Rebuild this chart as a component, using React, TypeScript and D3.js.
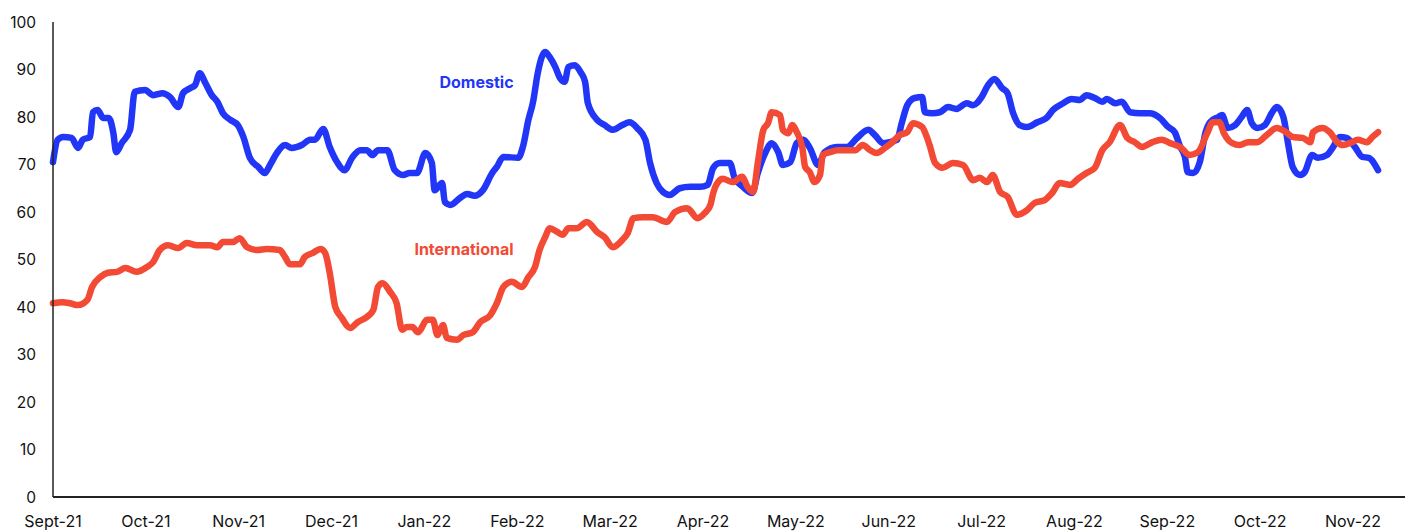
import React from "react";
import * as d3 from "d3";

const monthLabels = [
  "Sept-21", "Oct-21", "Nov-21", "Dec-21", "Jan-22", "Feb-22", "Mar-22", "Apr-22",
  "May-22", "Jun-22", "Jul-22", "Aug-22", "Sep-22", "Oct-22", "Nov-22",
];
const yTicks = [0, 10, 20, 30, 40, 50, 60, 70, 80, 90, 100];

// [months since Sept-21, value]
const domestic: [number, number][] = [
  [0.0, 70.5], [0.05, 75.2], [0.11, 75.8], [0.2, 75.6], [0.27, 73.5], [0.32, 75.2], [0.4, 75.8],
  [0.43, 81], [0.48, 81.5], [0.54, 79.8], [0.6, 79.8], [0.65, 76.6], [0.68, 72.6], [0.74, 74.5],
  [0.83, 77.3], [0.88, 85.3], [0.99, 85.7], [1.08, 84.6], [1.18, 85], [1.26, 84.2], [1.35, 82.1],
  [1.4, 85], [1.48, 86.1], [1.53, 86.7], [1.58, 89.2], [1.64, 87.2], [1.71, 84.6], [1.77, 83.2],
  [1.83, 80.8], [1.91, 79.4], [1.99, 78.3], [2.05, 75.8], [2.12, 71.4], [2.21, 69.5], [2.28, 68.2],
  [2.34, 70], [2.41, 72.4], [2.5, 74.1], [2.57, 73.5], [2.68, 74.1], [2.77, 75.2], [2.82, 75.2],
  [2.91, 77.5], [2.98, 73.7], [3.06, 70.5], [3.14, 68.8], [3.22, 71.4], [3.31, 73], [3.38, 73],
  [3.44, 72], [3.5, 73], [3.6, 73], [3.68, 68.8], [3.77, 67.8], [3.84, 68.2], [3.92, 68.2],
  [4.01, 72.4], [4.08, 70.3], [4.11, 64.6], [4.19, 66.1], [4.22, 62.1], [4.28, 61.5], [4.38, 62.9],
  [4.46, 63.8], [4.54, 63.4], [4.63, 64.6], [4.73, 68.2], [4.78, 69.5], [4.85, 71.6], [5.01, 71.4],
  [5.06, 73.7], [5.12, 79.4], [5.17, 83.2], [5.22, 89.2], [5.3, 93.7], [5.35, 92.6], [5.41, 90.5],
  [5.46, 88.2], [5.51, 87.4], [5.55, 90.5], [5.62, 90.9], [5.68, 89.5], [5.73, 87.4], [5.76, 82.9],
  [5.86, 79.4], [5.94, 78.3], [6.03, 77.3], [6.13, 78.3], [6.21, 78.9], [6.29, 77.7], [6.38, 75.2],
  [6.43, 70.3], [6.5, 66.1], [6.57, 64.2], [6.64, 63.6], [6.75, 65], [6.86, 65.3], [6.97, 65.3],
  [7.05, 65.7], [7.11, 69.3], [7.18, 70.3], [7.29, 70.3], [7.34, 67.2], [7.43, 65.3], [7.53, 64],
  [7.59, 68.2], [7.67, 72.4], [7.74, 74.5], [7.81, 72.6], [7.86, 69.9], [7.94, 70.5], [8.01, 74.5],
  [8.08, 75.2], [8.15, 73.5], [8.24, 69.9], [8.31, 72.6], [8.44, 73.7], [8.55, 73.7], [8.66, 75.6],
  [8.78, 77.3], [8.85, 76.2], [8.94, 74.5], [9.09, 75.2], [9.14, 78.7], [9.2, 82.5], [9.28, 84],
  [9.36, 84.2], [9.39, 81], [9.47, 80.8], [9.55, 81], [9.64, 82.1], [9.73, 81.7], [9.84, 82.9],
  [9.91, 82.5], [10.0, 84.2], [10.07, 86.7], [10.14, 88], [10.22, 86.1], [10.28, 85], [10.34, 80.8],
  [10.41, 78.3], [10.49, 77.9], [10.6, 78.9], [10.7, 79.8], [10.77, 81.5], [10.88, 82.9],
  [10.97, 83.8], [11.06, 83.6], [11.13, 84.6], [11.22, 84], [11.3, 83.2], [11.35, 83.8],
  [11.44, 82.9], [11.51, 83.2], [11.6, 81], [11.71, 80.8], [11.81, 80.8], [11.92, 79.8],
  [12.01, 77.9], [12.08, 76.8], [12.14, 73.7], [12.19, 71.6], [12.22, 68.4], [12.28, 68.2],
  [12.35, 70.5], [12.41, 76.6], [12.46, 78.9], [12.55, 80], [12.59, 80.4], [12.65, 77.7],
  [12.73, 78.3], [12.8, 80], [12.86, 81.5], [12.91, 78.7], [12.97, 77.7], [13.05, 78.3],
  [13.13, 81], [13.18, 82.1], [13.25, 80], [13.3, 74.5], [13.35, 69.5], [13.43, 67.8],
  [13.48, 68.4], [13.56, 72], [13.62, 71.4], [13.72, 72], [13.78, 73.5], [13.86, 75.8],
  [13.93, 75.6], [14.02, 73.7], [14.1, 71.6], [14.17, 71.4], [14.27, 68.8],
];

const international: [number, number][] = [
  [0.0, 40.8], [0.1, 41], [0.18, 40.8], [0.27, 40.4], [0.37, 41.5], [0.42, 44.2], [0.51, 46.3],
  [0.59, 47.2], [0.69, 47.4], [0.78, 48.2], [0.9, 47.4], [1.01, 48.4], [1.08, 49.5], [1.15, 52],
  [1.24, 53], [1.35, 52.4], [1.44, 53.5], [1.55, 53], [1.69, 53], [1.77, 52.6], [1.83, 53.7],
  [1.94, 53.7], [2.01, 54.5], [2.09, 52.6], [2.2, 52], [2.3, 52.2], [2.44, 52], [2.5, 50.5],
  [2.55, 49], [2.66, 49], [2.71, 50.5], [2.8, 51.4], [2.88, 52.2], [2.93, 51.4], [2.98, 47.2],
  [3.04, 40], [3.11, 37.7], [3.2, 35.6], [3.28, 36.8], [3.38, 37.9], [3.45, 39.4], [3.5, 44.2],
  [3.55, 45], [3.63, 43.2], [3.7, 40.8], [3.76, 35.2], [3.81, 35.8], [3.87, 35.8], [3.93, 34.7],
  [4.03, 37.3], [4.09, 37.3], [4.14, 34.1], [4.2, 36.2], [4.24, 33.5], [4.35, 33.1], [4.42, 34.1],
  [4.52, 34.7], [4.6, 36.8], [4.71, 38.3], [4.78, 40.8], [4.85, 44.2], [4.94, 45.3], [5.05, 44.2],
  [5.12, 46.3], [5.19, 48.4], [5.24, 52], [5.3, 54.7], [5.35, 56.6], [5.43, 55.8], [5.49, 55.2],
  [5.55, 56.6], [5.64, 56.6], [5.75, 57.9], [5.86, 55.8], [5.94, 54.7], [6.03, 52.6], [6.13, 54.1],
  [6.19, 55.6], [6.25, 58.7], [6.35, 58.9], [6.46, 58.9], [6.61, 57.9], [6.7, 60], [6.83, 60.8],
  [6.94, 58.7], [7.02, 59.8], [7.08, 61.5], [7.11, 64], [7.18, 66.7], [7.21, 67], [7.32, 66.3],
  [7.42, 67.4], [7.48, 65.3], [7.54, 64.2], [7.59, 70.3], [7.65, 77.3], [7.7, 78.7], [7.74, 81],
  [7.83, 80.4], [7.86, 77.3], [7.92, 76.6], [7.96, 78.3], [8.01, 76.8], [8.07, 73.5], [8.1, 69.5],
  [8.15, 68.4], [8.2, 66.3], [8.26, 67.8], [8.29, 72], [8.37, 72.6], [8.45, 73], [8.55, 73],
  [8.64, 73], [8.72, 74.1], [8.8, 73], [8.87, 72.4], [8.96, 73.5], [9.04, 74.7], [9.12, 76.2],
  [9.2, 76.8], [9.26, 78.7], [9.36, 77.9], [9.41, 75.8], [9.44, 74.1], [9.5, 70.3], [9.58, 69.3],
  [9.69, 70.3], [9.8, 69.9], [9.91, 66.7], [9.98, 67.2], [10.06, 66.3], [10.12, 67.8],
  [10.2, 64.2], [10.28, 63.2], [10.38, 59.4], [10.49, 60.4], [10.57, 61.9], [10.68, 62.5],
  [10.76, 64], [10.84, 66.1], [10.95, 65.7], [11.04, 67], [11.13, 68.2], [11.22, 69.3], [11.3, 73],
  [11.38, 74.7], [11.49, 78.3], [11.57, 75.6], [11.65, 74.7], [11.73, 73.7], [11.84, 74.7],
  [11.94, 75.2], [12.03, 74.5], [12.14, 73.7], [12.24, 72], [12.33, 72.6], [12.43, 76.6],
  [12.49, 78.9], [12.56, 78.9], [12.61, 76.6], [12.7, 74.5], [12.78, 74.1], [12.87, 74.7],
  [12.97, 74.7], [13.07, 76.2], [13.18, 77.7], [13.28, 76.8], [13.35, 75.8], [13.46, 75.6],
  [13.54, 74.7], [13.57, 76.8], [13.67, 77.7], [13.75, 76.8], [13.83, 74.7], [13.89, 74.1],
  [13.99, 74.7], [14.05, 75.2], [14.15, 74.7], [14.21, 75.8], [14.27, 76.8],
];

const series = [
  { name: "Domestic", data: domestic, color: "#2236F7", labelAt: [4.96, 87.4] as [number, number] },
  { name: "International", data: international, color: "#F24A34", labelAt: [4.96, 52.2] as [number, number] },
];

const W = 1405;
const H = 531;
const FONT = "Inter, 'Noto Sans', Arial, sans-serif";

export default function App() {
  const x = d3.scaleLinear().domain([0, 14]).range([53, 1353]);
  const y = d3.scaleLinear().domain([0, 100]).range([497, 22]);
  const line = d3
    .line<[number, number]>()
    .x((d) => x(d[0]))
    .y((d) => y(d[1]))
    .curve(d3.curveMonotoneX);

  return (
    <svg
      width={W}
      height={H}
      style={{ position: "absolute", left: 0, top: 0, background: "#fff" }}
      fontFamily={FONT}
    >
      {yTicks.map((t) => (
        <text key={t} x={36} y={y(t)} dy="0.36em" textAnchor="end" fontSize={15.5} fill="#111">
          {t}
        </text>
      ))}
      {monthLabels.map((m, i) => (
        <text key={m + i} x={x(i)} y={521} dy="0.36em" textAnchor="middle" fontSize={16} fill="#111">
          {m}
        </text>
      ))}
      {series.map((s) => (
        <path
          key={s.name}
          d={line(s.data) || ""}
          fill="none"
          stroke={s.color}
          strokeWidth={6.5}
          strokeLinejoin="round"
          strokeLinecap="round"
        />
      ))}
      {series.map((s) => (
        <text
          key={s.name + "-lab"}
          x={x(s.labelAt[0])}
          y={y(s.labelAt[1])}
          dy="0.36em"
          textAnchor="end"
          fontSize={16}
          fontWeight={700}
          fill={s.color}
        >
          {s.name}
        </text>
      ))}
      <line x1={53} x2={53} y1={y(100)} y2={y(0)} stroke="#222" strokeWidth={1.5} />
      <line x1={53} x2={W} y1={y(0)} y2={y(0)} stroke="#222" strokeWidth={2} />
    </svg>
  );
}
